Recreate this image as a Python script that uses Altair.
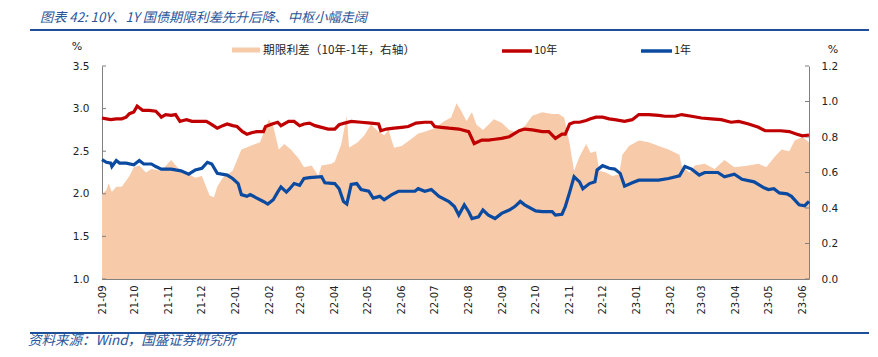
import altair as alt
import pandas as pd

# ---------------- data ----------------
y10_dates = ["2021-09-01","2021-09-05","2021-09-09","2021-09-14","2021-09-19","2021-09-23","2021-09-26","2021-09-30",
             "2021-10-03","2021-10-08","2021-10-14","2021-10-20","2021-10-23","2021-10-25","2021-10-29","2021-11-03",
             "2021-11-07","2021-11-11","2021-11-14","2021-11-17","2021-11-22","2021-11-28","2021-12-05","2021-12-09",
             "2021-12-15","2021-12-20","2021-12-24","2021-12-29","2022-01-02","2022-01-07","2022-01-11","2022-01-16",
             "2022-01-20","2022-01-26","2022-01-28","2022-02-03","2022-02-08","2022-02-11","2022-02-18","2022-02-23",
             "2022-02-28","2022-03-04","2022-03-09","2022-03-14","2022-03-20","2022-03-26","2022-04-01","2022-04-05",
             "2022-04-10","2022-04-16","2022-04-25","2022-05-04","2022-05-11","2022-05-13","2022-05-18","2022-05-25",
             "2022-06-01","2022-06-07","2022-06-14","2022-06-22","2022-06-28","2022-07-01","2022-07-07","2022-07-14",
             "2022-07-23","2022-08-01","2022-08-06","2022-08-13","2022-08-19","2022-08-25","2022-08-31","2022-09-07",
             "2022-09-16","2022-09-21","2022-09-28","2022-10-07","2022-10-13","2022-10-19","2022-10-25","2022-10-28",
             "2022-11-01","2022-11-05","2022-11-10","2022-11-16","2022-11-20","2022-11-25","2022-12-01","2022-12-07",
             "2022-12-12","2022-12-21","2022-12-28","2023-01-03","2023-01-12","2023-01-21","2023-01-27","2023-02-05",
             "2023-02-11","2023-02-20","2023-03-01","2023-03-10","2023-03-19","2023-03-28","2023-04-04","2023-04-13",
             "2023-04-22","2023-04-28","2023-05-04","2023-05-12","2023-05-20","2023-05-27","2023-06-01","2023-06-07"]
y10_vals = [2.89,2.88,2.87,2.88,2.88,2.90,2.94,2.96,
            3.03,2.98,2.98,2.97,2.93,2.90,2.93,2.92,
            2.93,2.85,2.86,2.87,2.85,2.85,2.85,2.82,
            2.77,2.80,2.82,2.80,2.79,2.73,2.70,2.72,
            2.73,2.73,2.79,2.82,2.84,2.80,2.85,2.85,
            2.80,2.82,2.83,2.80,2.78,2.76,2.76,2.81,
            2.83,2.85,2.84,2.83,2.82,2.74,2.76,2.77,
            2.78,2.79,2.83,2.84,2.84,2.79,2.78,2.77,
            2.76,2.73,2.59,2.63,2.63,2.64,2.65,2.67,
            2.74,2.76,2.75,2.73,2.73,2.65,2.70,2.70,
            2.82,2.84,2.84,2.86,2.88,2.90,2.90,2.88,
            2.87,2.85,2.87,2.93,2.93,2.92,2.91,2.91,
            2.93,2.91,2.89,2.88,2.87,2.84,2.85,2.82,
            2.78,2.74,2.74,2.74,2.73,2.70,2.68,2.69]

y1_dates = ["2021-09-01","2021-09-05","2021-09-09","2021-09-10","2021-09-14","2021-09-17","2021-09-23","2021-09-30",
            "2021-10-05","2021-10-09","2021-10-16","2021-10-20","2021-10-25","2021-11-03","2021-11-07","2021-11-12",
            "2021-11-19","2021-11-25","2021-12-01","2021-12-06","2021-12-10","2021-12-15","2021-12-24","2021-12-29",
            "2022-01-03","2022-01-06","2022-01-11","2022-01-14","2022-01-20","2022-01-26","2022-01-30","2022-02-04",
            "2022-02-08","2022-02-11","2022-02-16","2022-02-19","2022-02-23","2022-02-28","2022-03-04","2022-03-09",
            "2022-03-20","2022-03-23","2022-04-01","2022-04-05","2022-04-09","2022-04-12","2022-04-16","2022-04-21",
            "2022-04-25","2022-05-02","2022-05-06","2022-05-12","2022-05-16","2022-05-23","2022-05-29","2022-06-07",
            "2022-06-13","2022-06-16","2022-06-22","2022-06-28","2022-07-05","2022-07-14","2022-07-19","2022-07-23",
            "2022-07-28","2022-08-01","2022-08-04","2022-08-10","2022-08-14","2022-08-19","2022-08-25","2022-08-31",
            "2022-09-07","2022-09-12","2022-09-17","2022-09-21","2022-10-01","2022-10-07","2022-10-16","2022-10-19",
            "2022-10-25","2022-10-28","2022-11-01","2022-11-05","2022-11-10","2022-11-13","2022-11-19","2022-11-24",
            "2022-11-26","2022-12-01","2022-12-07","2022-12-12","2022-12-17","2022-12-21","2022-12-28","2023-01-03",
            "2023-01-21","2023-01-30","2023-02-09","2023-02-14","2023-02-20","2023-02-27","2023-03-04","2023-03-16",
            "2023-03-22","2023-03-31","2023-04-07","2023-04-18","2023-04-27","2023-05-01","2023-05-06","2023-05-11",
            "2023-05-18","2023-05-22","2023-05-29","2023-06-03","2023-06-07"]
y1_vals = [2.40,2.37,2.36,2.32,2.39,2.36,2.36,2.34,
           2.39,2.35,2.35,2.32,2.29,2.29,2.28,2.27,
           2.23,2.28,2.30,2.37,2.35,2.24,2.22,2.18,
           2.12,1.99,1.97,1.99,1.95,1.91,1.88,1.93,
           2.02,2.08,2.02,2.06,2.12,2.10,2.18,2.19,
           2.20,2.13,2.12,2.06,1.91,1.88,2.11,2.12,
           2.05,2.03,1.95,1.97,1.93,1.99,2.03,2.03,
           2.03,2.06,2.03,2.05,1.97,1.91,1.85,1.75,
           1.87,1.79,1.71,1.73,1.81,1.75,1.71,1.77,
           1.81,1.85,1.91,1.87,1.80,1.79,1.79,1.75,
           1.76,1.85,2.02,2.20,2.14,2.06,2.12,2.14,
           2.28,2.33,2.30,2.29,2.24,2.09,2.13,2.16,
           2.16,2.18,2.21,2.32,2.29,2.22,2.25,2.25,
           2.20,2.23,2.17,2.14,2.07,2.05,2.06,2.01,
           2.00,1.97,1.87,1.86,1.91]

spread_dates = ["2021-09-01","2021-09-05","2021-09-07","2021-09-10","2021-09-14","2021-09-19","2021-09-26","2021-09-30",
                "2021-10-05","2021-10-11","2021-10-16","2021-10-25","2021-11-03","2021-11-10","2021-11-19","2021-11-25",
                "2021-12-01","2021-12-08","2021-12-12","2021-12-15","2021-12-20","2021-12-29","2022-01-06","2022-01-14",
                "2022-01-23","2022-01-31","2022-02-04","2022-02-09","2022-02-14","2022-02-20","2022-02-27","2022-03-04",
                "2022-03-11","2022-03-17","2022-03-20","2022-03-29","2022-04-01","2022-04-07","2022-04-12","2022-04-14",
                "2022-04-22","2022-04-28","2022-05-04","2022-05-11","2022-05-16","2022-05-20","2022-05-25","2022-06-01",
                "2022-06-10","2022-06-16","2022-06-22","2022-07-01","2022-07-10","2022-07-16","2022-07-21","2022-07-25",
                "2022-07-30","2022-08-04","2022-08-08","2022-08-14","2022-08-24","2022-08-31","2022-09-07","2022-09-12",
                "2022-09-21","2022-09-28","2022-10-07","2022-10-16","2022-10-22","2022-10-27","2022-11-01","2022-11-05",
                "2022-11-10","2022-11-16","2022-11-20","2022-11-25","2022-11-28","2022-12-04","2022-12-10","2022-12-16",
                "2022-12-19","2022-12-25","2023-01-03","2023-01-12","2023-01-21","2023-01-30","2023-02-09","2023-02-11",
                "2023-02-18","2023-02-23","2023-03-04","2023-03-13","2023-03-22","2023-03-31","2023-04-13","2023-04-22",
                "2023-04-29","2023-05-07","2023-05-13","2023-05-20","2023-05-25","2023-06-01","2023-06-07"]
spread_vals = [0.48,0.50,0.54,0.49,0.52,0.52,0.58,0.63,
               0.64,0.60,0.62,0.61,0.67,0.62,0.59,0.57,
               0.58,0.47,0.46,0.52,0.57,0.61,0.73,0.75,
               0.77,0.90,0.86,0.73,0.76,0.73,0.68,0.63,
               0.64,0.58,0.64,0.65,0.66,0.76,0.92,0.74,
               0.77,0.81,0.87,0.83,0.81,0.84,0.74,0.75,
               0.79,0.82,0.83,0.85,0.89,0.91,0.99,0.95,
               0.89,0.94,0.87,0.84,0.90,0.88,0.84,0.83,
               0.86,0.92,0.94,0.93,0.93,0.91,0.76,0.61,
               0.69,0.76,0.71,0.72,0.61,0.60,0.58,0.59,
               0.70,0.75,0.78,0.77,0.75,0.73,0.70,0.64,
               0.60,0.64,0.65,0.62,0.67,0.63,0.64,0.65,
               0.63,0.69,0.73,0.72,0.78,0.80,0.77]

month_labels = ["21-09","21-10","21-11","21-12","22-01","22-02","22-03","22-04","22-05","22-06","22-07",
                "22-08","22-09","22-10","22-11","22-12","23-01","23-02","23-03","23-04","23-05","23-06"]
left_ticks = [1.0, 1.5, 2.0, 2.5, 3.0, 3.5]
right_ticks = [0.0, 0.2, 0.4, 0.6, 0.8, 1.0, 1.2]
x_domain = ["2021-09-01", "2023-06-07"]

title_text = "图表 42: 10Y、1Y 国债期限利差先升后降、中枢小幅走阔"
source_text = "资料来源：Wind，国盛证券研究所"
legend_area = "期限利差（10年-1年，右轴）"
legend_10 = "10年"
legend_1 = "1年"

# ---------------- styling ----------------
RED = "#C00000"
BLUE = "#0A4AA0"
PEACH = "#F7CAAA"
TITLE_BLUE = "#2A5599"
AXIS_GRAY = "#808080"
LABEL_FONT = "DejaVu Sans"
CJK = "Noto Sans CJK SC"

W, H = 707, 213

def to_dt(s):
    y, m, d = s.split("-")
    return alt.DateTime(year=int(y), month=int(m), date=int(d))

month_values = [alt.DateTime(year=2000 + int(l[:2]), month=int(l[3:]), date=1) for l in month_labels]

lines_df = pd.DataFrame({
    "date": pd.to_datetime(y10_dates + y1_dates),
    "value": y10_vals + y1_vals,
    "series": [legend_10] * len(y10_dates) + [legend_1] * len(y1_dates),
})
spread_df = pd.DataFrame({"date": pd.to_datetime(spread_dates), "spread": spread_vals})

x_enc = alt.X(
    "date:T",
    scale=alt.Scale(domain=[to_dt(x_domain[0]), to_dt(x_domain[1])]),
    axis=alt.Axis(values=month_values, format="%y-%m", labelAngle=270, ticks=False, grid=False,
                  title=None, domainColor=AXIS_GRAY, labelFont=LABEL_FONT, labelFontSize=10,
                  labelColor="#222222", labelPadding=6, labelOverlap=False, labelFlush=False),
)

left_axis = alt.Axis(values=left_ticks, format=".1f", ticks=False, grid=False, title=None,
                     domainColor=AXIS_GRAY, labelFont=LABEL_FONT, labelFontSize=10.5,
                     labelColor="#222222", labelPadding=13)
right_axis = alt.Axis(values=right_ticks, format=".1f", ticks=False, grid=False, title=None,
                      orient="right", domainColor=AXIS_GRAY, labelFont=LABEL_FONT, labelFontSize=10.5,
                      labelColor="#222222", labelPadding=12)

left_scale = alt.Scale(domain=[1.0, 3.5], nice=False, zero=False)
right_scale = alt.Scale(domain=[0.0, 1.2], nice=False, zero=False)

area = alt.Chart(spread_df).mark_area(color=PEACH, interpolate="linear").encode(
    x=x_enc,
    y=alt.Y("spread:Q", scale=right_scale, axis=right_axis),
)
rticks = alt.Chart(pd.DataFrame({"t": right_ticks})).mark_rule(color=AXIS_GRAY, strokeWidth=1).encode(
    x=alt.value(W - 4), x2=alt.value(W),
    y=alt.Y("t:Q", scale=right_scale, axis=right_axis),
)
right_layer = alt.layer(area, rticks)

lines = alt.Chart(lines_df).mark_line(strokeWidth=3.2, interpolate="linear").encode(
    x=x_enc,
    y=alt.Y("value:Q", scale=left_scale, axis=left_axis),
    color=alt.Color("series:N", scale=alt.Scale(domain=[legend_10, legend_1], range=[RED, BLUE]), legend=None),
)
lticks = alt.Chart(pd.DataFrame({"t": left_ticks})).mark_rule(color=AXIS_GRAY, strokeWidth=1).encode(
    x=alt.value(0), x2=alt.value(4),
    y=alt.Y("t:Q", scale=left_scale, axis=left_axis),
)
left_layer = alt.layer(lines, lticks)

# ---------- annotations (title, legend, units, source) ----------
def text_layer(txt, x, y, size, color="#222222", font=CJK, style="normal", align="left"):
    return alt.Chart(pd.DataFrame({"label": [txt]})).mark_text(
        align=align, baseline="middle", fontSize=size, font=font, fontStyle=style, color=color
    ).encode(x=alt.value(x), y=alt.value(y), text="label:N")

def rule_layer(x1, x2, y, color, width):
    return alt.Chart(pd.DataFrame({"k": [0]})).mark_rule(color=color, strokeWidth=width).encode(
        x=alt.value(x1), x2=alt.value(x2), y=alt.value(y)
    )

annos = [
    text_layer(title_text, -62, -48, 13.2, color=TITLE_BLUE, style="italic"),
    rule_layer(-72, 776, -36, "#1F4E9A", 2),
    rule_layer(130, 158, -16, PEACH, 5),
    text_layer(legend_area, 161, -16, 11.7),
    rule_layer(400, 430, -15, RED, 3.5),
    text_layer(legend_10, 432, -15, 11),
    rule_layer(539, 570, -15, BLUE, 3.5),
    text_layer(legend_1, 572, -15, 11),
    text_layer("%", -25, -19, 11, font=LABEL_FONT, align="center"),
    text_layer("%", 731, -16, 11, font=LABEL_FONT, align="center"),
    rule_layer(-72, 776, 267, "#1F4E9A", 2),
    text_layer(source_text, -74, 275, 13.5, color=TITLE_BLUE, style="italic"),
]

chart = alt.layer(right_layer, left_layer, *annos).resolve_scale(y="independent").properties(
    width=W, height=H,
    autosize=alt.AutoSizeParams(type="none"),
    padding={"left": 94, "top": 58, "right": 60, "bottom": 80},
).configure_view(strokeWidth=0)

chart.save("out.html", embed_options={"renderer": "svg", "actions": False})
